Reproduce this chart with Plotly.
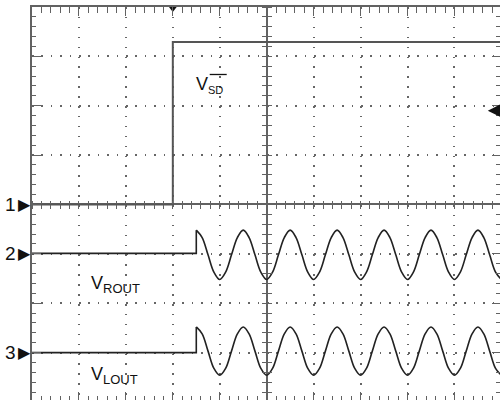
import plotly.graph_objects as go

# ---- Screen geometry in divisions (10 horizontal, 8 vertical; centre = 0,0) ----
X_MIN, X_MAX = -5.0, 4.97
Y_MIN, Y_MAX = -3.96, 4.0

# ---- Channel 1 : V_SD (shutdown) step ----
ch1_t = [-5.0, -2.0, -2.0, 4.97]
ch1_v = [0.0, 0.0, 3.29, 3.29]

# ---- Channel 2 / 3 : before the sine starts ----
ch2_pre_t = [-5.0, -1.5, -1.5]
ch2_pre_v = [-0.99, -0.99, -0.52]
ch3_pre_t = [-5.0, -1.5, -1.5]
ch3_pre_v = [-3.0, -3.0, -2.48]

# ---- Sine portion samples (read at peaks, troughs and in between) ----
sine_t = [-1.5, -1.375, -1.25, -1.125, -1.0, -0.875, -0.75, -0.625,
          -0.5, -0.375, -0.25, -0.125, 0.0, 0.125, 0.25, 0.375,
          0.5, 0.625, 0.75, 0.875, 1.0, 1.125, 1.25, 1.375,
          1.5, 1.625, 1.75, 1.875, 2.0, 2.125, 2.25, 2.375,
          2.5, 2.625, 2.75, 2.875, 3.0, 3.125, 3.25, 3.375,
          3.5, 3.625, 3.75, 3.875, 4.0, 4.125, 4.25, 4.375,
          4.5, 4.625, 4.75, 4.875, 5.0]
ch2_v = [-0.52, -0.67, -1.02, -1.37, -1.52, -1.37, -1.02, -0.67,
         -0.52, -0.67, -1.02, -1.37, -1.52, -1.37, -1.02, -0.67,
         -0.52, -0.67, -1.02, -1.37, -1.52, -1.37, -1.02, -0.67,
         -0.52, -0.67, -1.02, -1.37, -1.52, -1.37, -1.02, -0.67,
         -0.52, -0.67, -1.02, -1.37, -1.52, -1.37, -1.02, -0.67,
         -0.52, -0.67, -1.02, -1.37, -1.52, -1.37, -1.02, -0.67,
         -0.52, -0.67, -1.02, -1.37, -1.52]
ch3_v = [-2.48, -2.62, -2.97, -3.32, -3.46, -3.32, -2.97, -2.62,
         -2.48, -2.62, -2.97, -3.32, -3.46, -3.32, -2.97, -2.62,
         -2.48, -2.62, -2.97, -3.32, -3.46, -3.32, -2.97, -2.62,
         -2.48, -2.62, -2.97, -3.32, -3.46, -3.32, -2.97, -2.62,
         -2.48, -2.62, -2.97, -3.32, -3.46, -3.32, -2.97, -2.62,
         -2.48, -2.62, -2.97, -3.32, -3.46, -3.32, -2.97, -2.62,
         -2.48, -2.62, -2.97, -3.32, -3.46]

# ---- Channel ground markers ----
ch_ids = ["1", "2", "3"]
ch_gnd = [0.0, -0.99, -3.0]

# ---- Trigger ----
trig_t = -2.0
trig_level = 1.9

FONT = "Liberation Sans, Arial, sans-serif"
GRID = "#666666"
AXC = "#626262"
INK = "#111111"

fig = go.Figure()

fig.add_trace(go.Scatter(x=ch1_t, y=ch1_v, mode="lines",
                         line=dict(color="#555555", width=2), hoverinfo="skip"))
fig.add_trace(go.Scatter(x=ch2_pre_t, y=ch2_pre_v, mode="lines",
                         line=dict(color="#222222", width=1.6), hoverinfo="skip"))
fig.add_trace(go.Scatter(x=ch3_pre_t, y=ch3_pre_v, mode="lines",
                         line=dict(color="#222222", width=1.6), hoverinfo="skip"))
fig.add_trace(go.Scatter(x=sine_t, y=ch2_v, mode="lines",
                         line=dict(color="#222222", width=1.6, shape="spline"),
                         hoverinfo="skip"))
fig.add_trace(go.Scatter(x=sine_t, y=ch3_v, mode="lines",
                         line=dict(color="#222222", width=1.6, shape="spline"),
                         hoverinfo="skip"))

# trigger position marker at top
fig.add_trace(go.Scatter(x=[trig_t], y=[Y_MAX - 0.03], mode="markers",
                         marker=dict(symbol="triangle-down", size=7, color=INK),
                         cliponaxis=False, hoverinfo="skip"))

# invisible placeholder traces so the extra tick-only axes get drawn
for xa, ya in [("x2", "y"), ("x3", "y"), ("x4", "y"), ("x", "y2"), ("x", "y3"), ("x", "y4")]:
    fig.add_trace(go.Scatter(x=[0], y=[0], mode="markers", xaxis=xa, yaxis=ya,
                             marker=dict(size=1, opacity=0),
                             hoverinfo="skip", showlegend=False))

# channel ground markers (left of the graticule)
for cid, g in zip(ch_ids, ch_gnd):
    fig.add_annotation(x=0, xref="paper", y=g, yref="y", xanchor="right", yanchor="middle",
                       xshift=-14, showarrow=False, text=cid,
                       font=dict(family=FONT, size=19, color=INK))
    fig.add_annotation(x=0, xref="paper", y=g, yref="y", xanchor="right", yanchor="middle",
                       xshift=1, showarrow=False, text="\u25B6",
                       font=dict(family="DejaVu Sans", size=16, color=INK))

# trigger level arrow at right edge
fig.add_annotation(x=4.71, y=trig_level, ax=14, ay=0, text="", showarrow=True,
                   arrowhead=2, arrowsize=1.3, arrowwidth=2, arrowcolor=INK)

# signal labels
fig.add_annotation(x=-1.55, y=2.42, xanchor="left", yanchor="middle", showarrow=False,
                   text="V<sub><span style='font-size:11px'>SD</span></sub>",
                   font=dict(family=FONT, size=18, color=INK))
fig.add_shape(type="line", x0=-1.214, x1=-0.852, y0=2.633, y1=2.633,
              line=dict(color=INK, width=1.3))
fig.add_annotation(x=-3.79, y=-1.62, xanchor="left", yanchor="middle", showarrow=False,
                   text="V<sub><span style='font-size:13px'>ROUT</span></sub>",
                   font=dict(family=FONT, size=18, color=INK))
fig.add_annotation(x=-3.79, y=-3.46, xanchor="left", yanchor="middle", showarrow=False,
                   text="V<sub><span style='font-size:13px'>LOUT</span></sub>",
                   font=dict(family=FONT, size=18, color=INK))

common_hidden = dict(showticklabels=False, showgrid=False, zeroline=False)


def tick_axis(**kw):
    d = dict(dtick=1, tick0=0, tickwidth=1.4, tickcolor=AXC, showline=False)
    d.update(common_hidden)
    d.update(kw)
    return d


xpos0 = (0 - X_MIN) / (X_MAX - X_MIN)
ypos0 = (0 - Y_MIN) / (Y_MAX - Y_MIN)

fig.update_layout(
    template="none",
    width=500, height=400,
    margin=dict(l=32, r=0, t=7, b=0),
    paper_bgcolor="white", plot_bgcolor="white",
    showlegend=False,
    xaxis=dict(range=[X_MIN, X_MAX], side="top", showline=True, linecolor=AXC,
               linewidth=1.5, mirror=False, ticks="inside", ticklen=9, tickwidth=1.4,
               tickcolor=AXC, dtick=1, tick0=0, showticklabels=False,
               showgrid=True, gridcolor=GRID, gridwidth=1.5, griddash="1.5px,8.4px",
               zeroline=True, zerolinecolor=AXC, zerolinewidth=1.5, automargin=False,
               minor=dict(dtick=0.2, tick0=0, ticks="inside", ticklen=6,
                          tickwidth=1.4, tickcolor=AXC, showgrid=False)),
    yaxis=dict(range=[Y_MIN, Y_MAX], side="left", showline=True, linecolor=AXC,
               linewidth=1.5, mirror=False, ticks="inside", ticklen=9, tickwidth=1.4,
               tickcolor=AXC, dtick=1, tick0=0, showticklabels=False,
               showgrid=True, gridcolor=GRID, gridwidth=1.5, griddash="1.5px,7.9px",
               zeroline=True, zerolinecolor=AXC, zerolinewidth=1.5, automargin=False,
               minor=dict(dtick=0.2, tick0=0, ticks="inside", ticklen=4.5,
                          tickwidth=1.4, tickcolor=AXC, showgrid=False)),
    xaxis2=tick_axis(range=[X_MIN, X_MAX], overlaying="x", anchor="y", side="bottom",
                     ticks="inside", ticklen=8,
                     minor=dict(dtick=0.2, tick0=0, ticks="inside", ticklen=4,
                                tickwidth=1.4, tickcolor=AXC)),
    xaxis3=tick_axis(range=[X_MIN, X_MAX], overlaying="x", anchor="free", position=ypos0,
                     side="bottom", ticks="outside", ticklen=3.5,
                     minor=dict(dtick=0.2, tick0=0, ticks="outside", ticklen=3.5,
                                tickwidth=1.4, tickcolor=AXC)),
    xaxis4=tick_axis(range=[X_MIN, X_MAX], overlaying="x", anchor="free", position=ypos0,
                     side="top", ticks="outside", ticklen=3.5,
                     minor=dict(dtick=0.2, tick0=0, ticks="outside", ticklen=3.5,
                                tickwidth=1.4, tickcolor=AXC)),
    yaxis2=tick_axis(range=[Y_MIN, Y_MAX], overlaying="y", anchor="x", side="right",
                     ticks="inside", ticklen=8,
                     minor=dict(dtick=0.2, tick0=0, ticks="inside", ticklen=4,
                                tickwidth=1.4, tickcolor=AXC)),
    yaxis3=tick_axis(range=[Y_MIN, Y_MAX], overlaying="y", anchor="free", position=xpos0,
                     side="left", ticks="outside", ticklen=4.5,
                     minor=dict(dtick=0.2, tick0=0, ticks="outside", ticklen=4.5,
                                tickwidth=1.4, tickcolor=AXC)),
    yaxis4=tick_axis(range=[Y_MIN, Y_MAX], overlaying="y", anchor="free", position=xpos0,
                     side="right", ticks="outside", ticklen=4.5,
                     minor=dict(dtick=0.2, tick0=0, ticks="outside", ticklen=4.5,
                                tickwidth=1.4, tickcolor=AXC)),
)

fig.write_html("out.html", config={"displayModeBar": False},
               post_script="document.body.style.margin='0';")
